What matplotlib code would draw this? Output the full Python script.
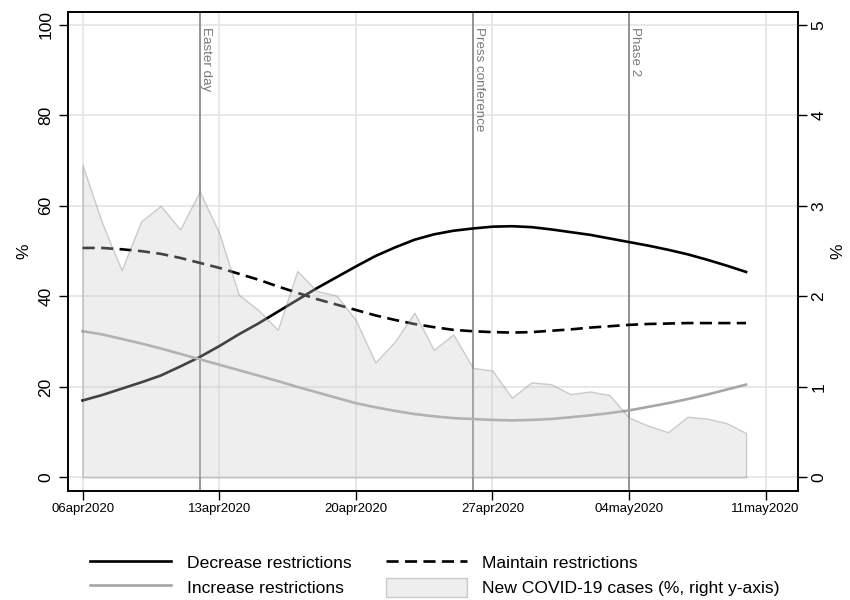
import matplotlib.pyplot as plt
import numpy as np
import pandas as pd

plt.rcParams['font.family'] = ['Liberation Sans', 'DejaVu Sans']

# Data (daily, 06apr2020 .. 10may2020)
start = '2020-04-06'
decrease = [17.0, 18.2, 19.6, 21.0, 22.5, 24.5, 26.6, 29.0, 31.6, 34.0,
            36.6, 39.2, 41.8, 44.2, 46.6, 48.9, 50.8, 52.5, 53.7, 54.5,
            55.0, 55.4, 55.5, 55.3, 54.8, 54.2, 53.6, 52.8, 52.0, 51.2,
            50.3, 49.3, 48.1, 46.8, 45.4]
maintain = [50.7, 50.7, 50.4, 50.0, 49.4, 48.5, 47.4, 46.3, 45.0, 43.7,
            42.2, 40.8, 39.4, 38.2, 37.0, 35.8, 34.8, 33.9, 33.2, 32.6,
            32.3, 32.1, 32.0, 32.1, 32.4, 32.7, 33.1, 33.4, 33.7, 33.9,
            34.0, 34.1, 34.1, 34.1, 34.1]
increase = [32.3, 31.6, 30.6, 29.6, 28.5, 27.3, 26.1, 24.9, 23.7, 22.5,
            21.3, 20.0, 18.8, 17.6, 16.4, 15.5, 14.7, 14.0, 13.5, 13.1,
            12.9, 12.7, 12.6, 12.7, 12.9, 13.3, 13.7, 14.2, 14.8, 15.6,
            16.4, 17.3, 18.3, 19.4, 20.5]
cases = [3.45, 2.81, 2.29, 2.83, 3.00, 2.74, 3.16, 2.70, 2.02, 1.85,
         1.63, 2.28, 2.06, 2.01, 1.74, 1.27, 1.50, 1.82, 1.41, 1.58,
         1.21, 1.18, 0.88, 1.05, 1.03, 0.92, 0.95, 0.91, 0.66, 0.57,
         0.50, 0.67, 0.65, 0.60, 0.49]
dates = pd.date_range(start, periods=len(cases), freq='D')

event_dates = pd.to_datetime(['2020-04-12', '2020-04-26', '2020-05-04'])
event_labels = ['Easter day', 'Press conference', 'Phase 2']

xtick_dates = pd.date_range(start, '2020-05-11', freq='7D')
xtick_labels = [d.strftime('%d%b%Y').lower() for d in xtick_dates]
left_ticks = [0, 20, 40, 60, 80, 100]
right_ticks = [0, 1, 2, 3, 4, 5]

fig = plt.figure(figsize=(8.5, 6), dpi=100)
ax = fig.add_axes([0.08, 0.1817, 0.8588, 0.7988])
ax2 = ax.twinx()

# grid
for d in xtick_dates:
    ax.axvline(d, color='#e2e2e2', lw=1.1, zorder=0)
for t in left_ticks:
    ax.axhline(t, color='#e2e2e2', lw=1.1, zorder=0)

# event lines
for d in event_dates:
    ax.axvline(d, color='#8a8a8a', lw=1.3, zorder=1)

l_dec, = ax.plot(dates, decrease, color='black', lw=1.9, zorder=3,
                 label='Decrease restrictions')
l_main, = ax.plot(dates, maintain, color='black', lw=1.9, zorder=3,
                  dashes=(4.6, 2.4), label='Maintain restrictions')
l_inc, = ax.plot(dates, increase, color='#a6a6a6', lw=1.9, zorder=3,
                 label='Increase restrictions')

# cases area, drawn over the lines, semi transparent like the original
area = ax2.fill_between(dates, 0, cases, facecolor=(0.8, 0.8, 0.8, 0.33),
                        edgecolor=(0.45, 0.45, 0.45, 0.33), lw=1.0,
                        label='New COVID-19 cases (%, right y-axis)')

for d, lab in zip(event_dates, event_labels):
    ax2.text(d, 4.98, lab, rotation=-90, ha='left', va='top',
             color='#7a7a7a', fontsize=9.6)

# axes
ax.set_xlim(pd.Timestamp(start) - pd.Timedelta(days=0.75),
            pd.Timestamp(start) + pd.Timedelta(days=36.66))
ax.set_ylim(-3.0, 102.9)
ax2.set_ylim(-0.15, 5.145)

ax.set_xticks(xtick_dates)
ax.set_xticklabels(xtick_labels, fontsize=9.5,
                   family=['Liberation Sans Narrow', 'Liberation Sans'])
ax.set_yticks(left_ticks)
ax.set_yticklabels([str(t) for t in left_ticks], rotation=90, va='center',
                   fontsize=12.5)
ax2.set_yticks(right_ticks)
ax2.set_yticklabels([str(t) for t in right_ticks], rotation=90, va='center',
                    fontsize=12.5)

ax.tick_params(axis='x', length=6.5, width=1, pad=2)
ax.tick_params(axis='y', length=6.5, width=1, pad=4)
ax2.tick_params(axis='y', length=6.5, width=1, pad=3)

ax.set_ylabel('%', fontsize=12.5, labelpad=5)
ax2.set_ylabel('%', fontsize=12.5, labelpad=3)

for a in (ax, ax2):
    for s in a.spines.values():
        s.set_linewidth(1.2)
        s.set_color('black')

fig.legend([l_dec, l_inc, l_main, area],
           ['Decrease restrictions', 'Increase restrictions',
            'Maintain restrictions', 'New COVID-19 cases (%, right y-axis)'],
           loc='center', bbox_to_anchor=(0.512, 0.042), ncol=2, frameon=False,
           fontsize=12.6, handlelength=4.6, handleheight=1.3,
           handletextpad=0.9, columnspacing=2.0, labelspacing=0.33)

fig.savefig('out.png', dpi=100)
